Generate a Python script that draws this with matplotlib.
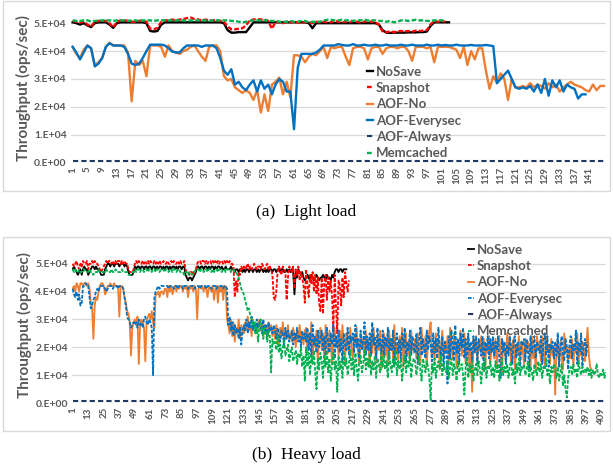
import numpy as np
import matplotlib.pyplot as plt
from matplotlib.patches import Rectangle

plt.rcParams['font.family'] = ['Lato', 'DejaVu Sans']

# ---- data (thousands of ops/sec) ----
names = ['NoSave', 'Snapshot', 'AOF-No', 'AOF-Everysec', 'AOF-Always', 'Memcached']

# (a) light load, 145 samples
light_nosave = [
    50.3, 50.0, 49.5, 50.0, 49.2, 48.6, 50.0, 50.3, 50.3, 50.3,
    49.5, 48.3, 50.0, 50.3, 50.3, 50.3, 50.3, 50.3, 50.3, 50.3,
    50.0, 47.2, 47.0, 47.2, 49.5, 50.3, 50.3, 50.3, 50.3, 50.3,
    50.3, 50.3, 50.3, 50.3, 50.3, 50.3, 50.3, 50.3, 50.3, 50.3,
    50.3, 50.0, 47.5, 46.6, 46.6, 46.8, 46.8, 46.8, 48.5, 50.3,
    50.3, 50.3, 50.3, 50.3, 50.3, 50.3, 50.3, 50.3, 50.3, 50.3,
    50.3, 50.3, 50.3, 50.3, 50.0, 48.2, 50.0, 50.0, 50.0, 50.0,
    50.0, 50.0, 50.0, 50.0, 50.0, 50.0, 50.0, 50.0, 50.0, 50.0,
    50.0, 50.0, 50.0, 49.5, 47.5, 46.6, 46.5, 46.6, 46.6, 46.6,
    46.6, 46.7, 46.7, 46.7, 46.8, 46.8, 47.0, 49.0, 50.3, 50.3,
    50.3, 50.3, 50.3]
light_snapshot = [
    50.8, 50.5, 50.2, 50.6, 49.5, 48.8, 50.5, 50.8, 50.8, 50.8,
    50.0, 48.5, 50.5, 51.0, 51.0, 50.8, 50.5, 50.5, 50.8, 51.0,
    50.5, 48.0, 47.8, 48.3, 50.5, 51.0, 51.0, 51.3, 51.0, 51.3,
    51.5, 51.8, 52.0, 51.5, 51.3, 51.0, 51.3, 51.0, 51.0, 51.0,
    50.8, 50.5, 48.8, 47.8, 47.8, 48.0, 48.2, 49.2, 51.0, 51.3,
    51.5, 51.3, 51.3, 50.8, 48.0, 50.5, 50.3, 50.0, 50.5, 50.3,
    50.5, 50.3, 50.0, 50.5, 50.3, 50.0, 50.5, 50.3, 50.5, 50.3,
    50.3, 50.8, 50.5, 50.3, 50.5, 50.3, 50.8, 50.5, 50.3, 50.5,
    50.8, 50.5, 50.3, 49.5, 47.0, 46.8, 47.0, 46.8, 47.0, 47.2,
    47.0, 47.2, 47.0, 47.3, 47.2, 47.3, 47.5, 49.5, 50.8, 50.5,
    50.8, 50.5]
light_aof_no = [
    41.5, 39.0, 37.5, 40.5, 42.0, 41.0, 35.0, 36.0, 37.5, 41.5,
    43.0, 42.0, 42.0, 42.0, 42.0, 39.5, 22.0, 36.5, 35.0, 36.5,
    31.0, 42.0, 42.0, 42.0, 41.5, 38.0, 42.0, 40.0, 39.5, 39.0,
    40.0, 40.5, 41.5, 42.0, 40.0, 38.0, 36.5, 41.5, 42.0, 42.0,
    40.0, 31.0, 29.5, 30.0, 27.0, 26.0, 25.0, 26.0, 25.0, 22.5,
    26.0, 18.0, 24.5, 18.5, 28.0, 29.0, 30.5, 24.5, 29.0, 23.5,
    38.5, 38.5, 38.0, 36.0, 38.0, 39.0, 38.5, 40.0, 41.5, 37.5,
    41.5, 41.0, 41.5, 41.5, 38.0, 35.0, 41.0, 41.5, 41.5, 41.0,
    37.0, 41.0, 41.5, 41.5, 39.0, 41.0, 41.5, 41.5, 41.0, 41.5,
    41.5, 40.0, 36.5, 41.5, 41.5, 41.5, 41.0, 41.5, 36.0, 41.5,
    41.5, 41.5, 41.5, 41.0, 40.5, 37.5, 41.5, 35.0, 40.0, 37.0,
    41.0, 41.0, 33.0, 26.5, 31.0, 28.5, 32.0, 30.0, 22.5, 30.0,
    27.0, 27.0, 27.5, 27.0, 28.5, 27.0, 28.0, 27.5, 26.5, 28.5,
    27.0, 28.0, 25.5, 27.0, 28.0, 29.0, 28.0, 27.5, 27.0, 26.0,
    25.5, 28.0, 26.0, 27.5, 27.5]
light_aof_everysec = [
    41.5, 39.5, 37.0, 39.5, 42.0, 41.0, 34.5, 35.5, 37.5, 41.5,
    42.8, 42.0, 42.0, 42.0, 41.5, 39.0, 35.5, 35.0, 35.5, 37.5,
    40.0, 42.3, 42.3, 42.3, 42.3, 42.0, 41.0, 39.8, 39.5, 39.5,
    41.0, 42.0, 42.0, 42.0, 42.0, 41.5, 42.0, 42.0, 42.0, 41.0,
    37.5, 33.0, 31.5, 33.5, 28.0, 29.0, 27.0, 26.0, 28.0, 29.5,
    25.5, 29.5, 26.5, 28.0, 24.5, 28.0, 30.0, 29.0, 25.5, 25.5,
    12.0, 34.0, 39.0, 39.0, 39.0, 39.0, 39.5, 40.5, 42.0, 42.0,
    42.0, 42.0, 42.5, 42.2, 42.0, 42.0, 42.5, 42.0, 42.0, 42.3,
    42.0, 42.0, 42.3, 42.0, 42.0, 42.3, 42.0, 42.0, 42.0, 42.3,
    42.0, 42.0, 42.3, 42.0, 42.0, 42.0, 42.3, 42.0, 42.0, 42.3,
    42.0, 42.2, 42.0, 42.0, 42.3, 42.0, 42.0, 42.0, 42.2, 42.0,
    42.0, 42.0, 42.2, 42.0, 41.8, 28.5, 30.0, 31.5, 33.0, 30.0,
    27.0, 26.5, 27.0, 26.5, 27.5, 25.5, 28.0, 25.0, 30.0, 24.0,
    29.5, 27.0, 29.5, 25.5, 28.0, 27.0, 26.5, 23.0, 24.5, 24.5]
light_memcached = [
    51.0, 50.8, 50.8, 51.0, 51.0, 50.6, 50.8, 51.0, 51.0, 51.0,
    51.0, 50.8, 51.0, 51.0, 51.0, 50.8, 51.0, 51.0, 50.8, 51.0,
    51.0, 51.0, 50.8, 51.0, 51.0, 51.0, 51.0, 51.0, 51.0, 51.0,
    51.0, 50.8, 51.0, 51.0, 51.0, 51.0, 51.0, 50.8, 51.0, 51.0,
    51.0, 51.0, 51.0, 50.8, 50.8, 50.5, 50.3, 50.5, 50.8, 51.0,
    51.0, 51.0, 51.0, 51.0, 50.8, 50.8, 50.5, 50.5, 50.5, 50.8,
    50.5, 50.5, 50.8, 50.8, 50.3, 50.5, 50.5, 50.5, 51.0, 51.2,
    51.2, 51.0, 51.0, 51.2, 51.0, 51.0, 50.8, 51.0, 51.0, 51.2,
    51.0, 51.0, 51.0, 50.8, 50.8, 50.5, 50.8, 50.3, 50.5, 51.0,
    51.0, 50.8, 51.0, 51.2, 51.0, 51.0, 50.8, 50.8, 51.0, 51.0,
    51.0, 50.8]
light_aof_always = 0.6   # flat
light_n = 145
light_ticks = list(range(1, 142, 4))

# (b) heavy load, 412 samples (rows of 12 match the tick spacing)
heavy_nosave = [
    48, 49, 48, 47, 46, 47, 48, 46, 48, 49, 48, 48,
    46, 47, 48, 49, 49, 48, 49, 48, 48, 47, 46, 46,
    46, 48, 49, 50, 50, 49, 50, 50, 49, 50, 50, 50,
    49, 50, 50, 50, 49, 50, 49, 47, 46, 46, 46, 47,
    49, 48, 49, 49, 48, 49, 49, 48, 49, 49, 48, 49,
    49, 48, 49, 49, 48, 49, 48, 49, 49, 48, 49, 48,
    49, 49, 48, 49, 48, 49, 49, 48, 49, 48, 49, 49,
    48, 49, 49, 46, 45, 44, 45, 45, 44, 45, 46, 47,
    49, 49, 48, 49, 49, 48, 49, 49, 48, 49, 48, 49,
    49, 48, 49, 48, 49, 49, 48, 49, 48, 48, 49, 48,
    48, 48, 49, 48, 48, 47, 48, 48, 47, 48, 48, 47,
    48, 47, 48, 48, 47, 48, 48, 47, 48, 48, 47, 48,
    47, 48, 48, 47, 48, 47, 48, 47, 48, 48, 47, 48,
    48, 47, 48, 48, 47, 48, 48, 47, 47, 48, 47, 48,
    47, 48, 47, 39, 47, 45, 48, 47, 46, 47, 45, 44,
    45, 46, 45, 44, 46, 45, 44, 45, 46, 45, 44, 45,
    45, 46, 45, 44, 46, 45, 45, 44, 46, 45, 47, 48,
    48, 47, 48, 48, 47, 48, 48, 48]
heavy_snapshot = [
    50, 49, 50, 51, 49, 48, 50, 49, 51, 50, 50, 51,
    48, 50, 50, 51, 50, 51, 50, 50, 49, 48, 47, 48,
    49, 50, 51, 50, 51, 51, 50, 51, 50, 51, 50, 51,
    51, 50, 51, 50, 51, 50, 50, 48, 47, 47, 47, 48,
    50, 51, 50, 51, 50, 50, 51, 50, 51, 50, 51, 50,
    51, 50, 50, 51, 50, 51, 50, 51, 50, 50, 51, 50,
    50, 51, 50, 50, 51, 50, 51, 50, 50, 51, 50, 51,
    50, 50, 51, 48, 47, 47, 46, 47, 47, 46, 47, 48,
    50, 51, 51, 50, 51, 51, 50, 51, 50, 51, 51, 50,
    51, 50, 51, 50, 51, 50, 51, 51, 50, 51, 50, 51,
    50, 51, 50, 50, 49, 38, 44, 40, 47, 46, 49, 48,
    49, 48, 49, 50, 48, 49, 48, 49, 50, 49, 48, 49,
    49, 48, 50, 49, 48, 49, 50, 48, 49, 48, 46, 38,
    37, 40, 47, 49, 48, 46, 49, 48, 47, 37, 45, 49,
    48, 47, 49, 41, 48, 46, 49, 44, 47, 45, 42, 36,
    48, 42, 38, 46, 43, 47, 40, 46, 39, 45, 36, 33,
    45, 32, 43, 46, 37, 45, 40, 44, 38, 26, 46, 35,
    25, 44, 42, 35, 45, 38, 47, 43, 40, 44]
heavy_aof_no = [
    41, 42, 40, 43, 42, 40, 43, 43, 42, 43, 43, 42,
    43, 41, 36, 34, 23, 35, 38, 37, 40, 42, 43, 43,
    42, 39, 40, 42, 42, 43, 42, 42, 43, 42, 42, 42,
    31, 42, 42, 41, 38, 36, 33, 32, 29, 17, 27, 29,
    30, 28, 31, 14, 28, 30, 29, 27, 15, 29, 31, 32,
    30, 33, 29, 27, 39, 39, 40, 38, 40, 40, 39, 41,
    41, 38, 42, 40, 42, 39, 41, 42, 40, 42, 41, 42,
    42, 40, 42, 41, 42, 38, 42, 41, 42, 40, 42, 41,
    30, 41, 42, 41, 42, 40, 42, 41, 38, 42, 41, 40,
    42, 37, 41, 42, 36, 42, 40, 42, 37, 41, 42, 30,
    28, 25, 30, 24, 29, 22, 27, 25, 30, 23, 28, 26,
    25, 29, 27, 31, 26, 28, 24, 30, 27, 29, 25, 28,
    30, 26, 29, 24, 28, 27, 23, 29, 26, 28, 24, 27,
    23, 28, 25, 21, 27, 24, 29, 22, 26, 24, 28, 23,
    25, 22, 27, 24, 20, 26, 23, 28, 22, 25, 21, 26,
    27, 18, 25, 21, 29, 17, 24, 20, 26, 15, 23, 27,
    19, 25, 16, 28, 21, 18, 26, 22, 14, 24, 27, 20,
    23, 17, 26, 19, 28, 21, 15, 25, 22, 18, 27, 20,
    16, 24, 21, 27, 18, 14, 25, 20, 23, 17, 26, 19,
    22, 13, 25, 18, 27, 20, 15, 24, 19, 26, 12, 21,
    25, 17, 22, 14, 26, 19, 23, 16, 28, 18, 21, 15,
    24, 19, 27, 13, 21, 25, 17, 22, 15, 26, 20, 18,
    23, 16, 25, 19, 14, 27, 20, 18, 24, 13, 22, 26,
    29, 17, 21, 15, 25, 19, 23, 12, 20, 26, 16, 22,
    18, 24, 14, 27, 20, 16, 25, 21, 13, 23, 19, 26,
    17, 22, 25, 14, 20, 24, 11, 19, 4, 23, 18, 24,
    15, 22, 19, 24, 16, 23, 12, 21, 18, 24, 14, 20,
    23, 16, 23, 13, 21, 24, 17, 11, 22, 19, 15, 25,
    18, 24, 14, 21, 23, 12, 20, 17, 24, 15, 22, 19,
    14, 23, 18, 22, 20, 13, 24, 16, 21, 11, 24, 19,
    22, 15, 24, 18, 13, 24, 19, 21, 14, 23, 17, 20,
    3, 19, 23, 14, 22, 17, 12, 25, 18, 21, 15, 20,
    16, 23, 13, 21, 18, 25, 14, 20, 17, 22, 19, 15,
    21, 27, 17, 13, 12]
heavy_aof_everysec = [
    41, 39, 38, 40, 37, 39, 35, 36, 42, 42, 43, 42,
    42, 38, 34, 35, 37, 38, 40, 41, 40, 42, 42, 42,
    42, 41, 40, 41, 42, 42, 42, 41, 42, 42, 42, 41,
    42, 42, 42, 41, 38, 35, 31, 30, 29, 27, 28, 29,
    28, 29, 27, 30, 28, 29, 27, 30, 31, 29, 28, 30,
    29, 27, 10, 38, 40, 41, 42, 41, 42, 42, 42, 42,
    42, 42, 41, 42, 42, 42, 41, 42, 42, 41, 42, 42,
    42, 41, 42, 42, 42, 41, 42, 42, 42, 42, 41, 42,
    42, 42, 41, 42, 42, 42, 42, 41, 42, 42, 42, 41,
    42, 42, 42, 41, 42, 42, 42, 42, 41, 42, 42, 41,
    28, 31, 26, 29, 24, 28, 25, 27, 23, 27, 21, 26,
    28, 26, 30, 25, 29, 27, 31, 26, 28, 25, 30, 27,
    29, 27, 25, 30, 26, 28, 24, 29, 26, 27, 25, 28,
    26, 23, 27, 24, 22, 26, 25, 21, 27, 23, 26, 22,
    24, 26, 21, 25, 23, 27, 22, 24, 20, 26, 23, 25,
    22, 27, 19, 25, 17, 28, 21, 24, 18, 26, 20, 23,
    26, 19, 24, 17, 27, 22, 18, 25, 21, 28, 16, 24,
    20, 26, 18, 23, 15, 25, 21, 19, 27, 17, 24, 22,
    25, 18, 28, 20, 23, 16, 26, 19, 22, 29, 17, 24,
    19, 25, 17, 29, 21, 24, 16, 27, 20, 23, 18, 26,
    17, 24, 20, 27, 16, 23, 19, 26, 14, 22, 25, 18,
    23, 16, 25, 20, 27, 15, 22, 19, 26, 17, 24, 20,
    18, 25, 14, 22, 27, 17, 23, 20, 16, 26, 19, 24,
    21, 15, 25, 18, 23, 16, 27, 20, 17, 24, 13, 22,
    19, 7, 24, 16, 26, 21, 15, 28, 18, 23, 14, 25,
    20, 27, 16, 23, 13, 25, 19, 22, 15, 24, 18, 24,
    14, 23, 20, 17, 24, 11, 22, 19, 24, 16, 23, 18,
    24, 17, 22, 19, 24, 15, 9, 23, 18, 22, 14, 21,
    17, 24, 20, 14, 23, 24, 16, 22, 19, 13, 22, 21,
    23, 15, 23, 19, 12, 24, 18, 21, 24, 16, 22, 20,
    18, 24, 14, 22, 25, 17, 24, 13, 21, 19, 22, 16,
    22, 17, 25, 13, 20, 24, 18, 15, 23, 19, 12, 21,
    24, 16, 21, 19, 26, 14, 22, 18, 25, 13, 20, 23,
    17, 22]
heavy_memcached = [
    48, 47, 48, 47, 47, 48, 47, 47, 48, 48, 47, 47,
    47, 48, 47, 47, 46, 47, 47, 47, 48, 47, 47, 47,
    47, 47, 48, 47, 47, 47, 48, 47, 47, 48, 47, 47,
    47, 47, 48, 47, 47, 47, 47, 46, 46, 46, 47, 47,
    48, 47, 48, 48, 47, 48, 48, 47, 48, 48, 47, 48,
    48, 47, 48, 48, 47, 48, 48, 47, 48, 48, 48, 47,
    48, 48, 47, 48, 48, 47, 48, 48, 47, 48, 48, 47,
    47, 47, 46, 47, 47, 46, 47, 47, 46, 47, 47, 48,
    48, 48, 47, 48, 48, 47, 48, 48, 47, 48, 48, 47,
    48, 47, 48, 48, 47, 48, 48, 47, 48, 48, 47, 48,
    48, 48, 47, 48, 48, 47, 47, 46, 45, 43, 41, 40,
    39, 37, 35, 33, 34, 31, 30, 28, 29, 25, 27, 22,
    28, 30, 26, 23, 27, 25, 22, 26, 24, 11, 23, 21,
    22, 19, 24, 18, 21, 16, 20, 23, 17, 19, 21, 15,
    18, 20, 15, 17, 19, 14, 18, 16, 20, 13, 17, 8,
    20, 13, 18, 10, 17, 14, 19, 11, 5, 16, 12, 18,
    15, 9, 17, 13, 19, 11, 16, 8, 14, 18, 12, 15,
    4, 17, 12, 15, 9, 18, 13, 16, 10, 14, 19, 12,
    16, 10, 18, 13, 8, 15, 17, 11, 14, 19, 12, 16,
    13, 18, 10, 15, 12, 17, 9, 16, 14, 11, 18, 13,
    17, 12, 15, 9, 18, 14, 11, 16, 13, 19, 10, 15,
    12, 16, 8, 14, 17, 11, 15, 13, 18, 9, 14, 16,
    15, 10, 13, 17, 12, 8, 16, 14, 11, 15, 13, 9,
    1, 14, 11, 16, 9, 13, 15, 12, 17, 10, 14, 12,
    11, 15, 9, 13, 16, 10, 14, 12, 8, 15, 11, 13,
    14, 10, 3, 13, 16, 9, 14, 11, 15, 8, 12, 14,
    10, 15, 12, 7, 14, 11, 16, 9, 13, 12, 15, 10,
    13, 9, 15, 11, 14, 8, 12, 16, 10, 13, 11, 14,
    9, 13, 15, 10, 12, 7, 14, 11, 16, 10, 13, 12,
    14, 10, 12, 15, 9, 13, 11, 8, 14, 12, 10, 15,
    11, 14, 9, 13, 12, 16, 10, 12, 7, 13, 11, 14,
    12, 9, 13, 8, 11, 14, 6, 10, 5, 2, 9, 12,
    13, 10, 14, 11, 12, 9, 15, 12, 10, 13, 11, 12,
    11, 13, 10, 12, 9, 12, 10, 11, 14, 10, 9, 11,
    10, 12, 9, 11]
heavy_aof_always = 0.6   # flat
heavy_n = 412
heavy_ticks = list(range(1, 410, 12))

colors = ['#000000', '#FF0000', '#ED7D31', '#0070C0', '#1F3864', '#00B050']
GRID = '#D9D9D9'
TXT = '#595959'

W, H = 613, 469
fig = plt.figure(figsize=(W / 100, H / 100), dpi=100)


def add_axes_px(left, top, right, bottom):
    return fig.add_axes([left / W, 1 - bottom / H, (right - left) / W, (bottom - top) / H])


def draw_panel(ax, n, series, styles, ymax, ticks, lw):
    for vals, (name, col, ls) in zip(series, styles):
        vals = np.atleast_1d(vals)
        if vals.size == 1:
            vals = np.full(n, vals[0])
        x = np.arange(1, len(vals) + 1)
        kw = dict(color=col, lw=lw, label=name, solid_joinstyle='round')
        if ls == 'dash':
            kw['dashes'] = (2.0, 0.9)
        elif ls == 'longdash':
            kw['dashes'] = (2.5, 1.5)
            kw['lw'] = 1.5
        ax.plot(x, vals * 1000, **kw)
    ax.set_xlim(0.5, n + 0.5)
    ax.set_ylim(0, ymax)
    ax.set_yticks(np.arange(0, 50001, 10000))
    ax.set_yticklabels(['0.E+00', '1.E+04', '2.E+04', '3.E+04', '4.E+04', '5.E+04'],
                       fontsize=7.5, fontweight='bold', color=TXT)
    ax.set_xticks(ticks)
    ax.set_xticklabels([str(t) for t in ticks], rotation=90, fontsize=7, color=TXT,
                       fontweight='bold')
    ax.tick_params(length=0, pad=3)
    ax.yaxis.grid(True, color=GRID, lw=0.9)
    ax.set_axisbelow(True)
    for s in ax.spines.values():
        s.set_visible(False)
    ax.set_ylabel('Throughput (ops/sec)', fontsize=11, fontweight='bold', color=TXT,
                  labelpad=2)


styles_a = list(zip(names, colors, ['solid', 'dash', 'solid', 'solid', 'longdash', 'dash']))
styles_b = list(zip(names, colors, ['solid', 'dash', 'solid', 'dash', 'longdash', 'dash']))

ax1 = add_axes_px(70.8, 13.4, 605.8, 162.7)
draw_panel(ax1, light_n,
           [light_nosave, light_snapshot, light_aof_no, light_aof_everysec,
            light_aof_always, light_memcached],
           styles_a, 53500, light_ticks, 1.7)

ax2 = add_axes_px(72.0, 247.0, 606.4, 403.0)
draw_panel(ax2, heavy_n,
           [heavy_nosave, heavy_snapshot, heavy_aof_no, heavy_aof_everysec,
            heavy_aof_always, heavy_memcached],
           styles_b, 56000, heavy_ticks, 1.3)

for ax, (lx, ly) in [(ax1, (360, 59)), (ax2, (461, 237))]:
    leg = ax.legend(loc='upper left', bbox_to_anchor=(lx / W, 1 - ly / H),
                    bbox_transform=fig.transFigure, frameon=False, borderpad=0,
                    handlelength=0.5, handletextpad=0.2, labelspacing=0.33,
                    prop={'size': 9.5, 'weight': 'bold'})
    leg.set_zorder(10)
    for t in leg.get_texts():
        t.set_color(TXT)

# chart borders
for top, bottom in [(1, 191), (237, 431)]:
    fig.patches.append(Rectangle((3 / W, 1 - bottom / H), 607 / W, (bottom - top) / H,
                                 transform=fig.transFigure, fill=False,
                                 edgecolor=GRID, lw=1.0))

fig.text(306 / W, 1 - 212 / H, '(a)  Light load', ha='center', va='center',
         family='Liberation Serif', fontsize=12.5)
fig.text(306 / W, 1 - 455 / H, '(b)  Heavy load', ha='center', va='center',
         family='Liberation Serif', fontsize=12.5)

fig.savefig('out.png', dpi=100)
